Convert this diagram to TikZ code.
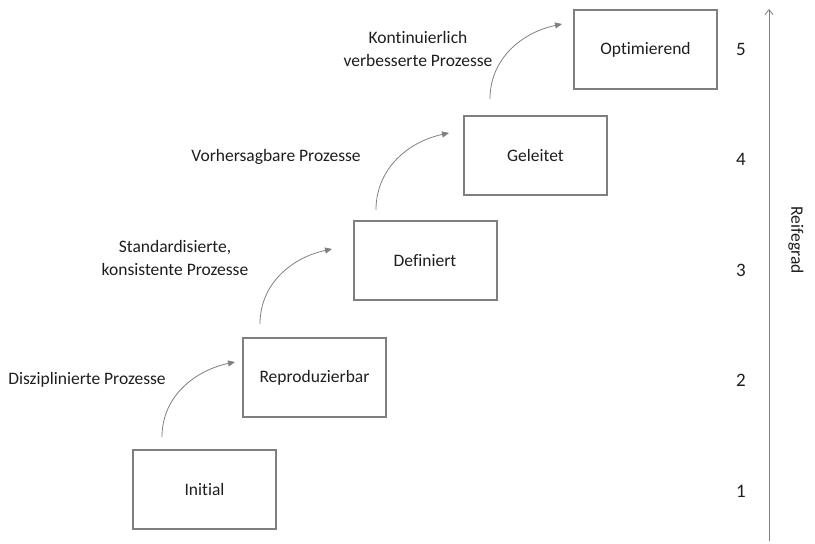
\documentclass[tikz,border=0pt]{standalone}
\usepackage{fontspec}
\setmainfont{Carlito}[Ligatures={NoCommon, NoRare, NoContextual}]
\usetikzlibrary{arrows.meta, positioning}
\definecolor{boxgray}{HTML}{7F7F7F}
\definecolor{txtdark}{HTML}{1E1E1E}

\begin{document}
\begin{tikzpicture}[
    x=1pt, y=-1pt,
    stage/.style={rectangle, draw=boxgray, line width=2pt, minimum width=143pt, minimum height=79pt, align=center, text=txtdark},
    note/.style={align=center, text=txtdark},
    level/.style={text=txtdark, font=\fontsize{19}{22}\selectfont},
    uparrow/.style={-{Triangle[length=7pt, width=6pt]}, boxgray, line width=0.8pt},
    every node/.append style={font=\fontsize{17.5}{23}\selectfont}
]
    \useasboundingbox (0,0) rectangle (815,544);

    % Stages
    \node[stage] (ini) at (204.5,489.5) {Initial};
    \node[stage] (rep) at (314.5,377.5) {Reproduzierbar};
    \node[stage] (def) at (425,260.5) {Definiert};
    \node[stage] (gel) at (535.5,155.5) {Geleitet};
    \node[stage] (opt) at (645.5,49.5) {Optimierend};

    % Process descriptions
    \node[note] (dis) at (87,380) {Disziplinierte Prozesse};
    \node[note] (std) at (175,258) {Standardisierte,\\konsistente Prozesse};
    \node[note] (vor) at (276,157) {Vorhersagbare Prozesse};
    \node[note] (kon) at (418,49) {Kontinuierlich\\verbesserte Prozesse};

    % Transitions
    \coordinate (s1) at (162,437);  \coordinate (e1) at (235,362);
    \coordinate (s2) at (260,324);  \coordinate (e2) at (332,249);
    \coordinate (s3) at (376,210);  \coordinate (e3) at (449,133);
    \coordinate (s4) at (490,99);   \coordinate (e4) at (562,24);
    \foreach \i in {1,...,4}
        \draw[uparrow] (s\i) to[out=90, in=192] (e\i);

    % Maturity axis
    \foreach \n/\y in {1/491, 2/380, 3/270, 4/159, 5/49}
        \node[level] (lv\n) at (741,\y) {\n};
    \coordinate (axbot) at (769,541);
    \coordinate (axtop) at (769,9);
    \draw[-{Straight Barb[length=5pt, width=8pt]}, boxgray, line width=0.8pt] (axbot) -- (axtop);
    \node[note, rotate=-90] (reif) at (796,240) {Reifegrad};
\end{tikzpicture}
\end{document}
